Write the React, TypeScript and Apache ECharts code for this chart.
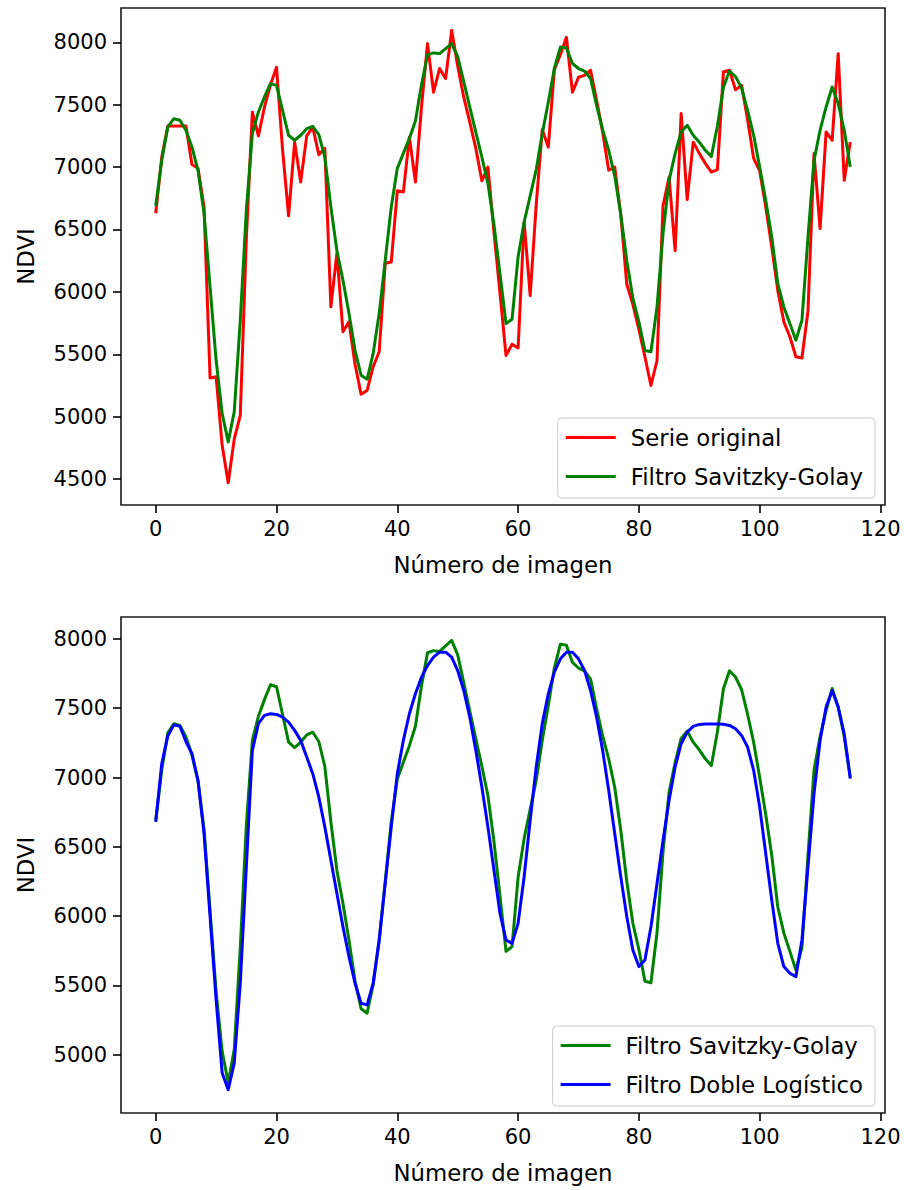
import React, { useEffect, useRef } from "react";
import * as echarts from "echarts";

// x values: image numbers
const imageNumbers: number[] = Array.from({ length: 116 }, (_, i) => i);

const serieOriginal: number[] = [
  6630, 7080, 7330, 7330, 7330, 7330, 7020, 6990, 6680, 5310,
  5320, 4770, 4470, 4820, 5010, 6420, 7440, 7250, 7480, 7660,
  7800, 7140, 6610, 7200, 6880, 7250, 7320, 7100, 7150, 5880,
  6310, 5680, 5760, 5420, 5180, 5210, 5400, 5520, 6230, 6240,
  6810, 6800, 7240, 6880, 7480, 7990, 7600, 7790, 7710, 8096,
  7810, 7560, 7360, 7150, 6890, 7000, 6480, 5990, 5490, 5580,
  5550, 6560, 5970, 6700, 7300, 7160, 7780, 7900, 8040, 7600,
  7720, 7735, 7776, 7535, 7280, 6975, 7000, 6620, 6060, 5900,
  5700, 5480, 5250, 5450, 6690, 6920, 6330, 7430, 6740, 7200,
  7110, 7030, 6960, 6980, 7765, 7776, 7620, 7655, 7380, 7070,
  6970, 6680, 6360, 6010, 5760, 5640, 5480, 5470, 5850, 7108,
  6507, 7282, 7215, 7909, 6894, 7201,
];

const filtroSG: number[] = [
  6690, 7054, 7322, 7388, 7375, 7295, 7161, 6974, 6627, 6040,
  5452, 5025, 4798, 5038, 5772, 6654, 7268, 7442, 7562, 7669,
  7655, 7455, 7255, 7215, 7255, 7308, 7327, 7260, 7080, 6681,
  6330, 6093, 5826, 5532, 5332, 5300, 5505, 5826, 6253, 6681,
  6990, 7110, 7230, 7370, 7660, 7900, 7915, 7910, 7950, 7989,
  7885, 7685, 7480, 7280, 7081, 6870, 6540, 6146, 5746, 5780,
  6280, 6560, 6770, 6980, 7268, 7520, 7790, 7962, 7955, 7830,
  7790, 7770, 7710, 7495, 7300, 7135, 6930, 6620, 6250, 5950,
  5760, 5530, 5520, 5880, 6467, 6894, 7108, 7282, 7335, 7255,
  7200, 7135, 7086, 7330, 7640, 7770, 7725, 7635, 7455, 7255,
  7001, 6734, 6440, 6066, 5879, 5746, 5612, 5773, 6440, 7054,
  7295, 7482, 7642, 7509, 7295, 7001,
];

const filtroDL: number[] = [
  6680, 7100, 7300, 7380, 7370, 7260, 7172, 6980, 6596, 5996,
  5396, 4868, 4748, 4940, 5516, 6356, 7196, 7388, 7448, 7460,
  7455, 7436, 7400, 7340, 7268, 7148, 7028, 6860, 6644, 6404,
  6164, 5924, 5708, 5516, 5372, 5360, 5516, 5828, 6236, 6644,
  7028, 7268, 7460, 7604, 7724, 7808, 7868, 7904, 7904, 7868,
  7772, 7628, 7436, 7196, 6932, 6644, 6332, 6020, 5828, 5804,
  5948, 6284, 6692, 7076, 7388, 7604, 7760, 7856, 7904, 7904,
  7856, 7772, 7628, 7436, 7196, 6908, 6596, 6284, 5996, 5756,
  5636, 5684, 5924, 6236, 6548, 6836, 7076, 7244, 7328, 7369,
  7383, 7386, 7386, 7386, 7384, 7376, 7352, 7304, 7220, 7052,
  6788, 6452, 6116, 5804, 5636, 5588, 5564, 5828, 6356, 6884,
  7268, 7508, 7628, 7508, 7316, 6992,
];

const xTicks: number[] = [0, 20, 40, 60, 80, 100, 120];
const yTicksTop: number[] = [4500, 5000, 5500, 6000, 6500, 7000, 7500, 8000];
const yTicksBottom: number[] = [5000, 5500, 6000, 6500, 7000, 7500, 8000];

const FONT = "DejaVu Sans";
const FS_TICK = 21;
const FS_TEXT = 22.8;

function pairs(vals: number[]) {
  return imageNumbers.map((x, i) => [x, vals[i]]);
}

export default function App() {
  const ref = useRef<HTMLDivElement>(null);

  useEffect(() => {
    document.body.style.margin = "0";
    document.body.style.overflow = "hidden";
    if (!ref.current) return;
    const chart = echarts.init(ref.current, undefined, { renderer: "svg" });

    const gridCommon = {
      left: 121,
      width: 764,
      show: true,
      borderColor: "#1a1a1a",
      borderWidth: 1.6,
      backgroundColor: "transparent",
      containLabel: false,
    };

    const xAxisBase = (gridIndex: number) => ({
      type: "value",
      gridIndex,
      min: -5.75,
      max: 120.75,
      axisLine: { show: false, onZero: false },
      splitLine: { show: false },
      axisTick: {
        show: true,
        length: 8,
        customValues: xTicks,
        lineStyle: { color: "#000", width: 1.6 },
      },
      axisLabel: {
        customValues: xTicks,
        margin: 13,
        fontSize: FS_TICK,
        fontFamily: FONT,
        color: "#000",
        formatter: (v: number) => String(v),
      },
      name: "Número de imagen",
      nameLocation: "middle",
      nameGap: 48,
      nameTextStyle: { fontSize: FS_TEXT, fontFamily: FONT, color: "#000" },
    });

    const yAxisBase = (gridIndex: number, min: number, max: number, ticks: number[]) => ({
      type: "value",
      gridIndex,
      min,
      max,
      axisLine: { show: false, onZero: false },
      splitLine: { show: false },
      axisTick: {
        show: true,
        length: 8,
        customValues: ticks,
        lineStyle: { color: "#000", width: 1.6 },
      },
      axisLabel: {
        customValues: ticks,
        margin: 14,
        fontSize: FS_TICK,
        fontFamily: FONT,
        color: "#000",
        formatter: (v: number) => String(v),
      },
      name: "NDVI",
      nameLocation: "middle",
      nameGap: 84,
      nameRotate: 90,
      nameTextStyle: { fontSize: FS_TEXT, fontFamily: FONT, color: "#000" },
    });

    const lineSeries = (name: string, vals: number[], color: string, gi: number) => ({
      type: "line",
      name,
      xAxisIndex: gi,
      yAxisIndex: gi,
      data: pairs(vals),
      showSymbol: false,
      symbol: "none",
      silent: true,
      lineStyle: { color, width: 3, join: "round" },
      itemStyle: { color },
    });

    const legendBase = {
      orient: "vertical",
      right: 29,
      icon: "rect",
      itemWidth: 50,
      itemHeight: 3,
      itemGap: 16,
      selectedMode: false,
      padding: [8, 12, 10, 8],
      borderColor: "#cccccc",
      borderWidth: 1,
      borderRadius: 4,
      backgroundColor: "rgba(255,255,255,0.8)",
      textStyle: {
        fontSize: FS_TEXT,
        fontFamily: FONT,
        color: "#000",
        padding: [0, 0, 0, 10],
      },
    };

    chart.setOption({
      animation: false,
      backgroundColor: "#fff",
      grid: [
        { ...gridCommon, top: 8, height: 497 },
        { ...gridCommon, top: 617, height: 496 },
      ],
      xAxis: [xAxisBase(0), xAxisBase(1)],
      yAxis: [
        yAxisBase(0, 4292, 8275, yTicksTop),
        yAxisBase(1, 4580, 8158, yTicksBottom),
      ],
      legend: [
        { ...legendBase, top: 418, data: ["Serie original", "Filtro Savitzky-Golay"] },
        { ...legendBase, top: 1026, data: ["Filtro Savitzky-Golay", "Filtro Doble Logístico"] },
      ],
      series: [
        lineSeries("Serie original", serieOriginal, "#ff0000", 0),
        lineSeries("Filtro Savitzky-Golay", filtroSG, "#008000", 0),
        lineSeries("Filtro Savitzky-Golay", filtroSG, "#008000", 1),
        lineSeries("Filtro Doble Logístico", filtroDL, "#0000ff", 1),
      ],
    });

    return () => {
      chart.dispose();
    };
  }, []);

  return <div ref={ref} style={{ width: 904, height: 1190 }} />;
}
